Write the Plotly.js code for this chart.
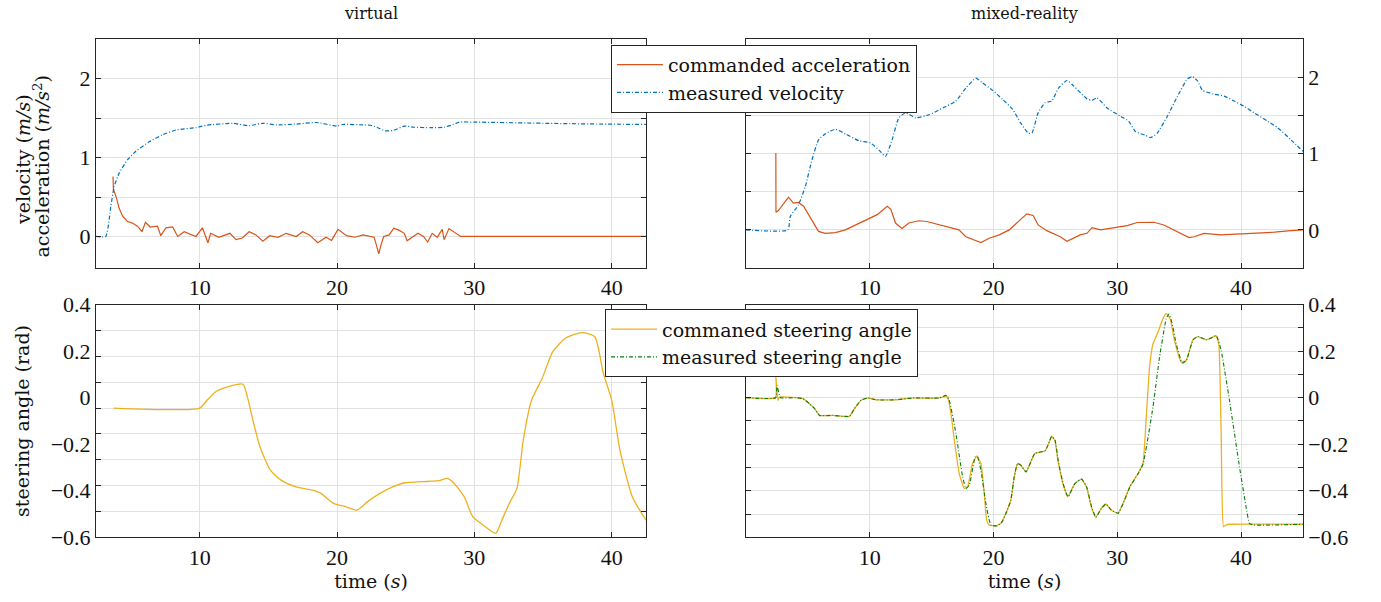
<!DOCTYPE html>
<html><head><meta charset="utf-8">
<script src="https://cdn.plot.ly/plotly-3.0.1.min.js"></script>
<style>html,body{margin:0;padding:0;background:#fff}#chart{width:1381px;height:602px}</style>
</head><body><div id="chart"></div>
<script>
// ---------- virtual: commanded acceleration ----------
const virtAccT = [3.69,3.72,3.94,4.13,4.38,4.74,5.1,5.47,5.8,6.05,6.4,6.93,7.17,7.54,8.03,8.4,8.87,9.49,9.73,10.2,10.6,10.8,11.4,12.2,12.65,13.1,13.6,14.1,14.6,15.1,15.7,16.3,17.03,17.5,18.0,18.6,19.2,19.6,20.07,20.7,21.3,21.9,22.4,22.7,22.87,23.04,23.2,23.4,23.8,24.13,24.5,24.9,25.1,25.6,25.9,26.3,26.6,26.93,27.3,27.66,27.8,28.15,28.5,29.0,42.5];
const virtAccV = [0.76,0.60,0.49,0.36,0.26,0.19,0.17,0.13,0.06,0.18,0.12,0.13,0.01,0.11,0.12,0.0,0.06,0.02,0.0,0.11,-0.08,0.04,-0.01,0.04,-0.04,-0.02,0.06,0.02,-0.06,0.01,-0.01,0.04,0.0,0.06,0.02,-0.08,-0.01,-0.05,0.09,0.01,-0.01,0.02,0.0,-0.01,-0.11,-0.22,-0.11,0.0,0.02,0.105,0.08,0.04,-0.055,0.0,0.04,0.0,-0.07,0.04,-0.01,0.09,-0.04,0.1,0.06,0.0,0.0];
// ---------- virtual: measured velocity ----------
const virtVelT = [2.45,3.16,3.53,3.77,4.13,4.74,5.35,6.32,7.30,8.27,9.73,10.46,12.4,13.6,14.6,15.6,17.0,18.5,20.0,20.4,21.9,22.43,22.9,23.5,24.1,24.9,25.6,26.8,27.8,28.3,28.9,30.0,37.0,42.5];
const virtVelV = [0,0,0.38,0.63,0.80,0.97,1.08,1.20,1.29,1.35,1.38,1.41,1.435,1.405,1.435,1.415,1.425,1.445,1.40,1.42,1.415,1.41,1.385,1.34,1.345,1.40,1.385,1.38,1.385,1.41,1.45,1.45,1.43,1.42];
// ---------- mixed-reality: commanded acceleration ----------
const mixAccT = [2.41,2.42,2.6,3.03,3.43,3.83,4.24,4.65,5.05,5.46,5.86,6.41,7.22,8.03,8.84,9.65,10.6,11.41,11.7,12.08,12.6,13.16,13.97,14.6,15.6,16.68,17.2,17.76,18.3,18.98,19.65,20.46,21.27,22.1,22.68,23.2,23.6,24.3,24.85,25.39,25.93,26.46,27.0,27.55,27.96,28.63,29.7,30.8,31.6,32.95,33.76,34.85,35.8,36.2,37.0,38.36,39.7,41.1,42.7,43.8,45.0];
const mixAccV = [1.01,0.23,0.25,0.35,0.43,0.35,0.36,0.31,0.20,0.09,-0.02,-0.045,-0.035,0.0,0.065,0.13,0.20,0.31,0.27,0.09,0.02,0.09,0.12,0.11,0.065,0.02,0.0,-0.09,-0.12,-0.165,-0.11,-0.065,0.0,0.12,0.21,0.19,0.065,-0.01,-0.05,-0.09,-0.15,-0.11,-0.065,-0.045,0.03,0.0,0.03,0.057,0.097,0.10,0.065,-0.02,-0.10,-0.09,-0.045,-0.065,-0.057,-0.045,-0.03,-0.013,0.0];
// ---------- mixed-reality: measured velocity ----------
const mixVelT = [0,3.38,3.57,4.24,4.79,5.33,5.86,6.41,7.22,8.03,9.11,10.06,10.73,11.27,11.8,12.35,12.9,13.7,14.8,15.9,16.95,17.76,18.57,19.1,19.93,20.74,21.55,22.2,22.8,23.1,23.6,24.17,24.7,25.25,25.93,26.46,27.55,27.95,28.36,29.17,30.25,30.92,31.47,32.28,32.68,33.23,34.04,34.85,35.66,36.07,36.5,36.88,37.82,38.63,39.44,40.25,41.06,42.15,42.96,44.04,45.0];
const mixVelV = [0,0,0.175,0.33,0.57,0.92,1.18,1.26,1.32,1.26,1.17,1.14,1.05,0.965,1.18,1.47,1.535,1.47,1.51,1.60,1.69,1.86,1.99,1.93,1.83,1.71,1.58,1.40,1.27,1.27,1.535,1.67,1.69,1.86,1.96,1.89,1.72,1.70,1.73,1.60,1.49,1.425,1.29,1.24,1.21,1.27,1.49,1.75,1.98,2.01,1.95,1.83,1.78,1.755,1.69,1.62,1.535,1.425,1.34,1.18,1.03];
// ---------- virtual: commanded steering angle ----------
const virtSteerT = [3.74,10.0,10.55,11.17,12.09,13.16,13.47,13.93,14.39,15.15,15.92,17.0,18.2,18.83,19.75,20.67,21.44,22.2,23.13,24.05,24.97,26.2,27.42,28.04,28.5,29.26,29.88,30.8,31.56,32.0,32.6,33.1,33.56,34.17,34.94,35.71,36.63,37.85,38.77,39.39,40.0,40.6,41.5,42.5];
const virtSteerV = [0,0,0.031,0.063,0.083,0.092,0.044,-0.059,-0.15,-0.24,-0.279,-0.305,-0.318,-0.33,-0.369,-0.382,-0.395,-0.363,-0.33,-0.305,-0.289,-0.285,-0.281,-0.272,-0.29,-0.343,-0.42,-0.459,-0.485,-0.434,-0.363,-0.311,-0.124,0.031,0.115,0.218,0.27,0.292,0.276,0.134,0.031,-0.163,-0.343,-0.434];
// ---------- mixed-reality: commanded steering angle ----------
const mixCmdT = [0,2.39,2.40,2.58,2.7,4.06,4.6,5.13,5.54,5.94,7.02,7.82,8.36,8.76,9.3,9.84,10.5,12.1,13.5,15.6,16.1,16.3,16.56,16.83,17.23,17.63,17.9,18.3,18.66,18.98,19.25,19.44,19.65,20.19,20.6,21.0,21.4,21.67,21.94,22.2,22.63,23.33,24.14,24.4,24.68,24.95,25.2,25.6,26.0,26.56,27.1,27.5,27.9,28.25,28.7,29.06,29.5,30.05,30.46,31.0,31.67,32.07,32.34,32.6,32.88,33.28,33.68,33.95,34.27,34.62,35.16,35.56,36.1,36.5,37.18,37.58,37.98,38.2,38.39,38.58,38.8,39.06,45.0];
const mixCmdV = [0,0,0.10,-0.011,0.003,0.0,-0.004,-0.026,-0.047,-0.076,-0.076,-0.08,-0.08,-0.047,-0.011,-0.001,-0.009,-0.009,-0.001,-0.001,0.006,0.003,-0.069,-0.183,-0.326,-0.39,-0.383,-0.283,-0.25,-0.283,-0.411,-0.526,-0.547,-0.551,-0.54,-0.497,-0.44,-0.34,-0.283,-0.29,-0.319,-0.24,-0.229,-0.204,-0.166,-0.183,-0.269,-0.369,-0.426,-0.369,-0.35,-0.383,-0.469,-0.514,-0.476,-0.457,-0.483,-0.497,-0.454,-0.383,-0.326,-0.283,-0.083,0.131,0.231,0.281,0.339,0.363,0.339,0.246,0.153,0.16,0.249,0.263,0.249,0.257,0.267,0.231,-0.154,-0.554,-0.547,-0.544,-0.544];
// ---------- mixed-reality: measured steering angle ----------
const mixMeasT = [0,2.39,2.5,2.7,2.8,4.06,4.6,5.13,5.54,5.94,7.02,7.82,8.36,8.76,9.3,9.84,10.5,12.1,13.5,15.6,16.16,16.42,16.96,17.5,17.77,18.04,18.52,18.7,18.98,19.38,19.78,20.3,20.7,21.0,21.4,21.67,21.94,22.2,22.63,23.33,24.14,24.4,24.7,24.97,25.22,25.62,26.02,26.58,27.12,27.52,27.92,28.27,28.72,29.08,29.52,30.07,30.48,31.02,31.69,32.09,32.88,33.41,33.95,34.17,34.44,34.76,35.24,35.58,36.12,36.52,37.2,37.6,38.0,38.39,39.06,39.87,40.4,40.67,40.94,45.0];
const mixMeasV = [0,0,0.053,0.01,0.0,0.0,-0.004,-0.026,-0.047,-0.076,-0.076,-0.08,-0.08,-0.047,-0.011,-0.001,-0.009,-0.009,-0.001,-0.001,0.01,-0.011,-0.154,-0.34,-0.39,-0.376,-0.254,-0.254,-0.311,-0.454,-0.547,-0.551,-0.533,-0.497,-0.44,-0.34,-0.283,-0.29,-0.319,-0.24,-0.229,-0.204,-0.166,-0.183,-0.269,-0.369,-0.426,-0.369,-0.35,-0.383,-0.469,-0.514,-0.476,-0.457,-0.483,-0.497,-0.454,-0.383,-0.326,-0.283,-0.04,0.174,0.339,0.36,0.317,0.231,0.149,0.16,0.249,0.263,0.249,0.257,0.267,0.203,-0.011,-0.297,-0.469,-0.54,-0.547,-0.544];

// ---------- ticks ----------
const timeTicks = [10, 20, 30, 40];
const speedTickVals = [0, 1, 2];
const speedMinorVals = [0.5, 1.5];
// virtual steering panel: grid every 0.1 on the data range [-0.5, 0.4],
// while its printed labels run 0.4 ... -0.6 evenly over the full height
const steerGridVals = [-0.4, -0.3, -0.2, -0.1, 0, 0.1, 0.2, 0.3];
const steerLabelVals = [-0.6, -0.4, -0.2, 0, 0.2, 0.4];
const steerLabelText = ['\u22120.6', '\u22120.4', '\u22120.2', '0', '0.2', '0.4'];
const steerMinorVals = [-0.5, -0.3, -0.1, 0.1, 0.3];

const VIRT_RANGE = [-0.5, 0.4], LABEL_RANGE = [-0.6, 0.4];
const labelPos = steerLabelVals.map(v => VIRT_RANGE[0] + (v - LABEL_RANGE[0]) / (LABEL_RANGE[1] - LABEL_RANGE[0]) * (VIRT_RANGE[1] - VIRT_RANGE[0]));

const NUMFONT = 'Liberation Serif, Times New Roman, serif';
const TXTFONT = 'DejaVu Serif, serif';
const C_ACC = '#D95319', C_VEL = '#0072BD', C_CMD = '#EDB120', C_MEAS = '#0a7d0a';
const GRID = '#e2e2e2', AX = '#262626', INK = '#111';

const traces = [
  {x: virtAccT, y: virtAccV, xaxis: 'x', yaxis: 'y', type: 'scatter', mode: 'lines', name: 'commanded acceleration',
   line: {color: C_ACC, width: 1.2}, legend: 'legend', legendgroup: 'acc'},
  {x: virtVelT, y: virtVelV, xaxis: 'x', yaxis: 'y', type: 'scatter', mode: 'lines', name: 'measured velocity',
   line: {color: C_VEL, width: 1.2, dash: '4px,2px,1px,2px', shape: 'spline', smoothing: 0.5}, legend: 'legend', legendgroup: 'vel'},
  {x: mixAccT, y: mixAccV, xaxis: 'x2', yaxis: 'y2', type: 'scatter', mode: 'lines', name: 'commanded acceleration',
   line: {color: C_ACC, width: 1.2}, showlegend: false, legendgroup: 'acc'},
  {x: mixVelT, y: mixVelV, xaxis: 'x2', yaxis: 'y2', type: 'scatter', mode: 'lines', name: 'measured velocity',
   line: {color: C_VEL, width: 1.2, dash: '4px,2px,1px,2px', shape: 'spline', smoothing: 0.5}, showlegend: false, legendgroup: 'vel'},
  {x: virtSteerT, y: virtSteerV, xaxis: 'x3', yaxis: 'y3', type: 'scatter', mode: 'lines', name: 'commaned steering angle',
   line: {color: C_CMD, width: 1.3, shape: 'spline', smoothing: 0.6}, legend: 'legend2', legendgroup: 'cmd'},
  {x: mixCmdT, y: mixCmdV, xaxis: 'x4', yaxis: 'y4', type: 'scatter', mode: 'lines', name: 'commaned steering angle',
   line: {color: C_CMD, width: 1.3, shape: 'spline', smoothing: 0.4}, showlegend: false, legendgroup: 'cmd'},
  {x: mixMeasT, y: mixMeasV, xaxis: 'x4', yaxis: 'y4', type: 'scatter', mode: 'lines', name: 'measured steering angle',
   line: {color: C_MEAS, width: 1.1, dash: '4px,2px,1px,2px', shape: 'spline', smoothing: 0.4}, legend: 'legend2', legendgroup: 'meas'}
];

const minorStyle = {showgrid: true, gridcolor: GRID, gridwidth: 1, ticks: 'inside', ticklen: 5, tickcolor: AX, tickwidth: 1};
const base = {
  showline: true, linecolor: AX, linewidth: 1, mirror: 'ticks',
  ticks: 'inside', ticklen: 5, tickwidth: 1, tickcolor: AX,
  showgrid: true, gridcolor: GRID, gridwidth: 1, zeroline: false,
  tickfont: {family: NUMFONT, size: 22, color: INK}, fixedrange: true
};
const xTitle = {text: 'time (<i>s</i>)', font: {family: TXTFONT, size: 19, color: INK}, standoff: 4};

const DX_L = [0.0695, 0.4678], DX_R = [0.5402, 0.9435];
const DY_T = [0.5548, 0.9347], DY_B = [0.1075, 0.4939];

const legendBase = {xanchor: 'left', yanchor: 'top', bgcolor: '#fff', bordercolor: AX, borderwidth: 1,
  font: {family: TXTFONT, size: 19, color: INK}, tracegroupgap: 0, itemwidth: 46};

const layout = {
  width: 1381, height: 602, margin: {l: 0, r: 0, t: 0, b: 0},
  paper_bgcolor: '#fff', plot_bgcolor: '#fff', font: {family: TXTFONT, color: INK},
  xaxis: Object.assign({}, base, {domain: DX_L, anchor: 'y', range: [2.45, 42.5], tickvals: timeTicks}),
  yaxis: Object.assign({}, base, {domain: DY_T, anchor: 'x', range: [-0.4, 2.5], tickvals: speedTickVals,
     minor: Object.assign({tickvals: speedMinorVals}, minorStyle)}),
  xaxis2: Object.assign({}, base, {domain: DX_R, anchor: 'y2', range: [0, 45], tickvals: timeTicks}),
  yaxis2: Object.assign({}, base, {domain: DY_T, anchor: 'x2', side: 'right', range: [-0.5, 2.5], tickvals: speedTickVals,
     minor: Object.assign({tickvals: speedMinorVals}, minorStyle)}),
  xaxis3: Object.assign({}, base, {domain: DX_L, anchor: 'y3', range: [2.45, 42.5], tickvals: timeTicks, title: xTitle}),
  yaxis3: Object.assign({}, base, {domain: DY_B, anchor: 'x3', range: VIRT_RANGE,
     tickvals: labelPos, ticktext: steerLabelText, ticks: '', showgrid: false,
     minor: Object.assign({tickvals: steerGridVals}, minorStyle),
     title: {text: 'steering angle (rad)', font: {family: TXTFONT, size: 19, color: INK}, standoff: 15}}),
  xaxis4: Object.assign({}, base, {domain: DX_R, anchor: 'y4', range: [0, 45], tickvals: timeTicks, title: xTitle}),
  yaxis4: Object.assign({}, base, {domain: DY_B, anchor: 'x4', side: 'right', range: LABEL_RANGE, tickvals: steerLabelVals, ticktext: steerLabelText,
     minor: Object.assign({tickvals: steerMinorVals}, minorStyle)}),
  legend: Object.assign({}, legendBase, {x: 0.4424, y: 0.9257}),
  legend2: Object.assign({}, legendBase, {x: 0.4381, y: 0.4862}),
  annotations: [
    {text: 'virtual', xref: 'paper', yref: 'paper', x: 0.2686, y: 0.978, xanchor: 'center', yanchor: 'middle', showarrow: false,
     font: {family: TXTFONT, size: 16, color: INK}},
    {text: 'mixed-reality', xref: 'paper', yref: 'paper', x: 0.7415, y: 0.978, xanchor: 'center', yanchor: 'middle', showarrow: false,
     font: {family: TXTFONT, size: 16, color: INK}},
    {text: 'velocity (<i>m/s</i>)', xref: 'paper', yref: 'paper', x: 0.0163, y: 0.735, xanchor: 'center', yanchor: 'middle', textangle: -90, showarrow: false,
     font: {family: TXTFONT, size: 19, color: INK}},
    {text: 'acceleration (<i>m/s</i><sup>2</sup>)', xref: 'paper', yref: 'paper', x: 0.0297, y: 0.7234, xanchor: 'center', yanchor: 'middle', textangle: -90, showarrow: false,
     font: {family: TXTFONT, size: 19, color: INK}}
  ]
};

Plotly.newPlot('chart', traces, layout, {staticPlot: true, displayModeBar: false});
</script></body></html>
